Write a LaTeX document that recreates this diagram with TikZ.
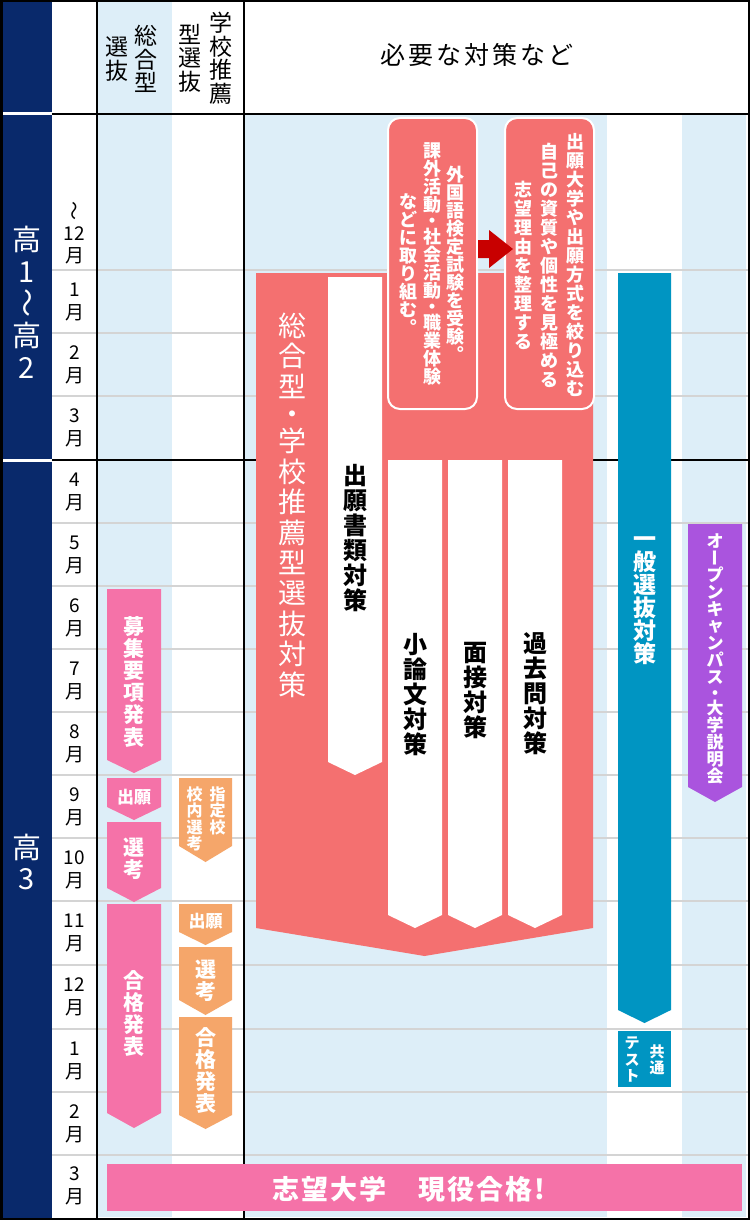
\documentclass[tikz,border=0pt]{standalone}
\usepackage{fontspec}
\usepackage{graphicx}
\setmainfont{Noto Sans CJK JP}
\newcommand\fsz[2]{\fontsize{#1}{#2}\selectfont}
\ExplSyntaxOn
\dim_new:N \l__vt_pitch_dim
\dim_new:N \l__vt_gap_dim
\seq_new:N \l__vt_cols_seq
\tl_new:N \l__vt_out_tl
\tl_new:N \l__vt_align_tl
\cs_new_protected:Npn \__vt_rot:n #1
  { \hbox_to_wd:nn { 1em } { \hss \rotatebox[origin=c]{90}{ \rule[-0.12em]{0pt}{1em} #1 } \hss } }
\cs_new_protected:Npn \__vt_small:n #1
  { \hbox_to_wd:nn { 1em } { \hss \kern 0.08em \raisebox{0.08em}{#1} \hss } }
\cs_new_protected:Npn \__vt_half:n #1
  {
    \skip_vertical:n { -0.1\l__vt_pitch_dim }
    \hbox_to_wd:nn { 1em } { \hss #1 \hss }
    \skip_vertical:n { -0.1\l__vt_pitch_dim }
  }
\cs_new_protected:Npn \__vt_char:n #1
  {
    \str_case:nnF {#1}
      {
        { 。 } { \hbox_to_wd:nn { 1em } { \hss ︒ \hss } }
        { 、 } { \hbox_to_wd:nn { 1em } { \hss ︑ \hss } }
        { ・ } { \__vt_half:n {#1} }
        { ー } { \__vt_rot:n {#1} }
        { 〜 } { \__vt_rot:n {#1} }
        { ャ } { \__vt_small:n {#1} }
        { ュ } { \__vt_small:n {#1} }
        { ョ } { \__vt_small:n {#1} }
        { ッ } { \__vt_small:n {#1} }
      }
      { \hbox_to_wd:nn { 1em } { \hss #1 \hss } }
  }
\cs_new_protected:Npn \__vt_inner:n #1
  {
    \baselineskip = \l__vt_pitch_dim
    \lineskiplimit = -\maxdimen
    \lineskip = 0pt
    \tl_map_function:nN {#1} \__vt_char:n
  }
\cs_new_protected:Npn \__vt_col:n #1
  {
    \str_if_eq:VnTF \l__vt_align_tl { t }
      { \vtop { \__vt_inner:n {#1} } }
      { \ensuremath { \vcenter { \__vt_inner:n {#1} } } }
  }
\NewDocumentCommand \vtext { O{c} m m m }
  {
    \tl_set:Nn \l__vt_align_tl {#1}
    \dim_set:Nn \l__vt_pitch_dim {#2}
    \dim_set:Nn \l__vt_gap_dim {#3 - 1em}
    \seq_set_split:Nnn \l__vt_cols_seq { | } {#4}
    \tl_clear:N \l__vt_out_tl
    \seq_map_indexed_inline:Nn \l__vt_cols_seq
      {
        \int_compare:nNnTF {##1} = {1}
          { \tl_put_left:Nn \l__vt_out_tl { \__vt_col:n {##2} } }
          { \tl_put_left:Nn \l__vt_out_tl { \__vt_col:n {##2} \skip_horizontal:N \l__vt_gap_dim } }
      }
    \hbox:n { \l__vt_out_tl }
  }
\ExplSyntaxOff
\definecolor{navy}{RGB}{9,41,107}
\definecolor{lblue}{RGB}{221,238,248}
\definecolor{rowline}{RGB}{212,212,212}
\definecolor{salmon}{RGB}{244,112,112}
\definecolor{darkred}{RGB}{200,0,0}
\definecolor{pinkc}{RGB}{245,114,168}
\definecolor{orangec}{RGB}{245,166,106}
\definecolor{bluec}{RGB}{0,149,194}
\definecolor{purplec}{RGB}{170,84,222}
\newcommand\tagarrow[6]{\fill[#1] (#2,#4) -- (#3,#4) -- (#3,#5) -- ({(#2+#3)/2},#6) -- (#2,#5) -- cycle;}
\tikzset{
  vt/.style={inner sep=0pt},
  hz/.style={inner sep=0pt, align=center},
  rowl/.style={draw=rowline, line width=2pt},
  blk/.style={draw=black, line width=2.5pt},
}
\begin{document}
\begin{tikzpicture}[x=1pt,y=-1pt]
\useasboundingbox (0,0) rectangle (750,1220);
% backgrounds
\fill[white] (0,0) rectangle (750,1220);
\fill[lblue] (98,0) rectangle (172,1217);
\fill[lblue] (244,114) rectangle (607,1217);
\fill[lblue] (682,114) rectangle (746,1217);
\fill[navy] (0,0) rectangle (52,1220);
% row lines
\foreach \yy in {270,333,396,523,586,649,712,775,838,901,965,1029,1092,1155}
  \draw[rowl] (52,\yy) -- (748,\yy);
% separators
\draw[white, line width=3pt] (0,114) -- (52,114);
\draw[white, line width=3pt] (0,460) -- (52,460);
\draw[blk] (52,114) -- (750,114);
\draw[blk] (52,460) -- (750,460);
\draw[blk] (97,0) -- (97,1218);
\draw[blk] (244,0) -- (244,1218);
\draw[black, line width=2.5pt] (1.25,1.25) rectangle (748.75,1218.75);

% headers
\node[vt, font=\fsz{23}{23}] (h1) at (131.5,59) {\vtext{23.5pt}{29pt}{総合型|選抜}};
\node[vt, font=\fsz{23}{23}] (h2) at (205.5,58) {\vtext{23.5pt}{31pt}{学校推薦|型選抜}};
\node[hz, font=\fsz{25}{25}\addfontfeature{LetterSpace=12}] (h3) at (477,55) {必要な対策など};

% navy labels
\node[hz, text=white, font=\fsz{29}{32}] (g12) at (27,302) {高\\1\\\rotatebox[origin=c]{90}{\rule[-0.12em]{0pt}{1em}〜}\\高\\2};
\node[hz, text=white, font=\fsz{29}{31}] (g3) at (27,862) {高\\3};

% month labels
\node[hz, font=\fsz{19}{22}] (m0) at (74.5,233) {\rotatebox[origin=c]{90}{\rule[-0.12em]{0pt}{1em}〜}\\12\\月};
\foreach \yy/\mm [count=\i] in {301.5/1,364.5/2,428/3,491.5/4,554.5/5,617.5/6,680.5/7,743.5/8,806.5/9,869.5/10,933/11,997/12,1060.5/1,1123.5/2,1186/3}
  \node[hz, font=\fsz{19}{23}] (m\i) at (74.5,\yy) {\mm\\月};

% big salmon shape
\fill[salmon] (256,273) -- (593,273) -- (593,928) -- (424.5,956) -- (256,928) -- cycle;
\fill[salmon, draw=white, line width=2pt, rounded corners=12pt] (388,118) rectangle (477,409);
\fill[salmon, draw=white, line width=2pt, rounded corners=12pt] (505,118) rectangle (594,409);
\fill[darkred] (478,240) -- (489,240) -- (489,230) -- (513,249) -- (489,268) -- (489,258) -- (478,258) -- cycle;
% white bars
\tagarrow{white}{328}{382}{277}{762}{775}
\tagarrow{white}{388}{442}{460}{915}{928}
\tagarrow{white}{448}{502}{460}{915}{928}
\tagarrow{white}{508}{562}{460}{915}{928}

\node[vt, text=white, font=\bfseries\fsz{18}{18}] (lbox) at (432,264) {\vtext{18pt}{23.5pt}{外国語検定試験を受験。|課外活動・社会活動・職業体験|などに取り組む。}};
\node[vt, text=white, font=\bfseries\fsz{18}{18}] (rbox) at (549,265) {\vtext{19pt}{26pt}{出願大学や出願方式を絞り込む|自己の資質や個性を見極める|志望理由を整理する}};
\node[vt, text=white, font=\fsz{28}{28}] (main) at (292,505) {\vtext{30.4pt}{30pt}{総合型・学校推薦型選抜対策}};
\node[vt, font=\bfseries\fsz{24}{24}] (s1) at (355,538) {\vtext{25pt}{25pt}{出願書類対策}};
\node[vt, font=\bfseries\fsz{24}{24}] (s2) at (415,694.5) {\vtext{25pt}{25pt}{小論文対策}};
\node[vt, font=\bfseries\fsz{24}{24}] (s3) at (475,690) {\vtext{25pt}{25pt}{面接対策}};
\node[vt, font=\bfseries\fsz{24}{24}] (s4) at (535,693.5) {\vtext{25pt}{25pt}{過去問対策}};

% pink (総合型)
\tagarrow{pinkc}{107}{161}{589}{760}{773}
\tagarrow{pinkc}{107}{161}{778}{807}{820}
\tagarrow{pinkc}{107}{161}{822}{888}{902}
\tagarrow{pinkc}{107}{161}{904}{1113}{1128}
\node[vt, text=white, font=\bfseries\fsz{21}{21}] (p1) at (134,681.5) {\vtext{22.2pt}{22pt}{募集要項発表}};
\node[hz, text=white, font=\bfseries\fsz{17}{17}] (p2) at (134,797) {出願};
\node[vt, text=white, font=\bfseries\fsz{21}{21}] (p3) at (134,859) {\vtext{22pt}{22pt}{選考}};
\node[vt, text=white, font=\bfseries\fsz{21}{21}] (p4) at (134,1013) {\vtext{22pt}{22pt}{合格発表}};

% orange (学校推薦)
\tagarrow{orangec}{179}{232}{778}{846}{862}
\tagarrow{orangec}{179}{232}{904}{932}{945}
\tagarrow{orangec}{179}{232}{947}{1000}{1015}
\tagarrow{orangec}{179}{232}{1017}{1115}{1129}
\node[vt, text=white, font=\bfseries\fsz{16}{16}] (o1) at (206,819) {\vtext[t]{16.2pt}{23pt}{指定校|校内選考}};
\node[hz, text=white, font=\bfseries\fsz{17}{17}] (o2) at (205.5,921) {出願};
\node[vt, text=white, font=\bfseries\fsz{21}{21}] (o3) at (205.5,981) {\vtext{22pt}{22pt}{選考}};
\node[vt, text=white, font=\bfseries\fsz{21}{21}] (o4) at (205.5,1070) {\vtext{22pt}{22pt}{合格発表}};

% blue
\tagarrow{bluec}{618}{671}{273}{1010}{1023}
\node[vt, text=white, font=\bfseries\fsz{23}{23}] (b1) at (644.5,601) {\vtext{23pt}{23pt}{一般選抜対策}};
\fill[bluec] (618,1031) rectangle (671,1087);
\node[vt, text=white, font=\bfseries\fsz{15}{15}] (b2) at (644.5,1060) {\vtext{16.5pt}{25pt}{共通|テスト}};

% purple
\tagarrow{purplec}{688}{742}{524}{787}{802}
\node[vt, text=white, font=\bfseries\fsz{17}{17}] (u1) at (715,659) {\vtext{17pt}{17pt}{オープンキャンパス・大学説明会}};

% bottom
\fill[pinkc] (107,1164) rectangle (742,1211);
\node[hz, text=white, font=\bfseries\fsz{27}{27}\addfontfeature{LetterSpace=8}] (fin) at (409,1189) {志望大学　現役合格!};
\end{tikzpicture}
\end{document}
